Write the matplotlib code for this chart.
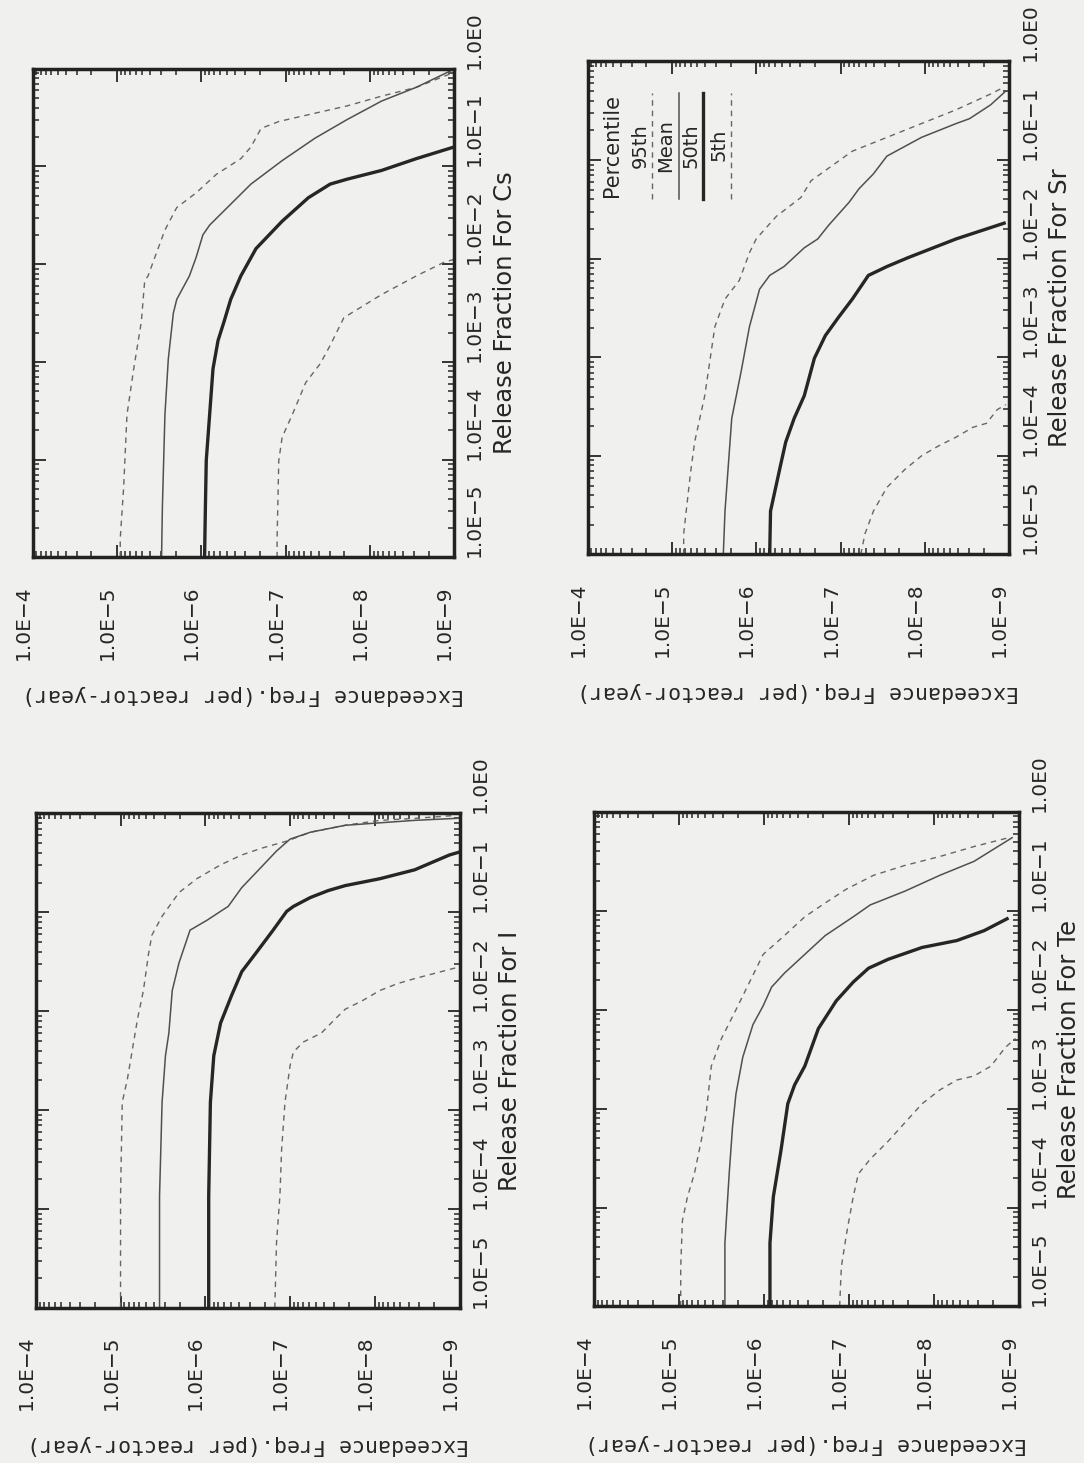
import matplotlib.pyplot as plt
import numpy as np

# values read off the scanned (rotated) page, stored as log10
# f = exceedance frequency (per reactor-year), r = release fraction

# Cs
cs_95_f = [-5.04, -5.04, -5.08, -5.12, -5.20, -5.29, -5.33, -5.37, -5.45, -5.57, -5.71, -5.94, -6.18, -6.47, -6.59, -6.71, -6.92, -7.12, -7.73, -8.14, -8.55, -8.96]
cs_95_r = [-5.00, -4.81, -4.29, -3.54, -3.07, -2.59, -2.17, -2.12, -1.93, -1.65, -1.42, -1.27, -1.08, -0.92, -0.80, -0.61, -0.54, -0.50, -0.38, -0.28, -0.19, -0.05]
cs_mean_f = [-5.53, -5.54, -5.57, -5.61, -5.67, -5.71, -5.86, -5.94, -6.02, -6.10, -6.31, -6.59, -6.96, -7.35, -7.73, -8.14, -8.55, -8.96]
cs_mean_r = [-5.00, -4.48, -3.54, -2.97, -2.50, -2.36, -2.12, -1.93, -1.70, -1.60, -1.42, -1.18, -0.94, -0.71, -0.52, -0.33, -0.19, -0.02]
cs_50_f = [-6.04, -6.05, -6.06, -6.10, -6.14, -6.20, -6.27, -6.35, -6.47, -6.65, -6.96, -7.27, -7.53, -7.73, -8.14, -8.55, -9.00]
cs_50_r = [-5.00, -4.48, -4.01, -3.54, -3.07, -2.78, -2.59, -2.36, -2.12, -1.84, -1.56, -1.32, -1.18, -1.13, -1.04, -0.92, -0.80]
cs_5_f = [-6.90, -6.90, -6.92, -6.96, -7.08, -7.24, -7.41, -7.53, -7.69, -7.78, -8.14, -8.55, -8.88, -9.00]
cs_5_r = [-5.00, -4.81, -4.01, -3.77, -3.54, -3.21, -3.02, -2.83, -2.55, -2.50, -2.31, -2.12, -1.98, -1.95]

# Sr
sr_95_f = [-5.14, -5.14, -5.22, -5.27, -5.39, -5.51, -5.63, -5.80, -5.92, -6.00, -6.24, -6.53, -6.65, -7.14, -7.55, -7.96, -8.37, -8.78, -8.94]
sr_95_r = [-5.00, -4.79, -4.18, -3.86, -3.39, -2.69, -2.41, -2.22, -1.94, -1.80, -1.57, -1.38, -1.21, -0.91, -0.77, -0.63, -0.49, -0.33, -0.26]
sr_mean_f = [-5.61, -5.63, -5.67, -5.71, -5.82, -5.92, -6.04, -6.16, -6.33, -6.57, -6.73, -6.86, -7.10, -7.22, -7.39, -7.55, -7.96, -8.37, -8.53, -8.78, -8.96]
sr_mean_r = [-5.00, -4.56, -4.09, -3.62, -3.15, -2.69, -2.31, -2.17, -2.08, -1.89, -1.80, -1.66, -1.43, -1.29, -1.14, -0.96, -0.77, -0.63, -0.58, -0.44, -0.30]
sr_50_f = [-6.16, -6.17, -6.29, -6.35, -6.45, -6.57, -6.69, -6.82, -6.98, -7.14, -7.33, -7.55, -7.80, -8.37, -8.94]
sr_50_r = [-5.00, -4.56, -4.09, -3.86, -3.62, -3.39, -3.01, -2.78, -2.59, -2.41, -2.17, -2.08, -1.99, -1.80, -1.64]
sr_5_f = [-7.24, -7.29, -7.39, -7.55, -7.76, -7.96, -8.16, -8.37, -8.57, -8.73, -8.86, -8.96]
sr_5_r = [-5.00, -4.79, -4.56, -4.32, -4.14, -4.00, -3.90, -3.81, -3.71, -3.67, -3.53, -3.48]

# I
i_95_f = [-5.00, -5.00, -5.02, -5.08, -5.20, -5.27, -5.33, -5.37, -5.49, -5.69, -5.90, -6.18, -6.43, -6.67, -6.96, -7.24, -7.65, -8.06, -8.47, -8.96]
i_95_r = [-5.00, -3.87, -2.92, -2.69, -2.08, -1.79, -1.42, -1.23, -1.04, -0.80, -0.66, -0.52, -0.42, -0.35, -0.28, -0.19, -0.12, -0.07, -0.05, -0.02]
i_mean_f = [-5.46, -5.46, -5.49, -5.53, -5.57, -5.61, -5.69, -5.82, -6.02, -6.18, -6.27, -6.43, -6.63, -6.84, -7.00, -7.24, -7.65, -8.47, -8.96]
i_mean_r = [-5.00, -3.87, -2.92, -2.45, -2.22, -1.79, -1.51, -1.18, -1.08, -0.99, -0.94, -0.75, -0.57, -0.38, -0.26, -0.19, -0.12, -0.07, -0.05]
i_50_f = [-6.04, -6.04, -6.06, -6.10, -6.18, -6.31, -6.43, -6.59, -6.80, -6.96, -7.04, -7.24, -7.45, -7.65, -8.06, -8.47, -8.88, -9.00]
i_50_r = [-5.00, -3.87, -2.92, -2.45, -2.12, -1.84, -1.60, -1.42, -1.18, -0.99, -0.94, -0.85, -0.78, -0.73, -0.66, -0.57, -0.42, -0.39]
i_5_f = [-6.82, -6.84, -6.88, -6.90, -6.94, -7.00, -7.04, -7.16, -7.37, -7.53, -7.65, -7.86, -8.06, -8.27, -8.47, -8.96]
i_5_r = [-5.00, -4.34, -3.87, -3.40, -2.92, -2.55, -2.41, -2.31, -2.22, -2.08, -1.98, -1.89, -1.79, -1.72, -1.67, -1.56]

# Te
te_95_f = [-5.02, -5.02, -5.04, -5.10, -5.18, -5.26, -5.32, -5.38, -5.50, -5.67, -5.83, -5.99, -6.24, -6.48, -6.72, -6.97, -7.29, -7.66, -8.07, -8.47, -8.88]
te_95_r = [-5.00, -4.60, -4.13, -3.89, -3.66, -3.33, -3.04, -2.57, -2.29, -2.00, -1.72, -1.44, -1.25, -1.06, -0.92, -0.78, -0.64, -0.54, -0.45, -0.35, -0.26]
te_mean_f = [-5.54, -5.54, -5.59, -5.63, -5.67, -5.75, -5.87, -5.99, -6.09, -6.24, -6.48, -6.72, -7.05, -7.25, -7.66, -8.07, -8.47, -8.92]
te_mean_r = [-5.00, -4.36, -3.66, -3.18, -2.85, -2.48, -2.15, -1.96, -1.77, -1.63, -1.44, -1.25, -1.06, -0.94, -0.80, -0.64, -0.50, -0.26]
te_50_f = [-6.07, -6.07, -6.11, -6.20, -6.28, -6.36, -6.48, -6.64, -6.85, -7.05, -7.23, -7.46, -7.86, -8.27, -8.59, -8.86]
te_50_r = [-5.00, -4.36, -3.89, -3.42, -2.95, -2.76, -2.57, -2.19, -1.91, -1.72, -1.58, -1.49, -1.37, -1.30, -1.20, -1.08]
te_5_f = [-6.89, -6.91, -6.97, -7.05, -7.11, -7.25, -7.46, -7.66, -7.86, -8.07, -8.27, -8.47, -8.67, -8.84, -8.96]
te_5_r = [-5.00, -4.60, -4.27, -3.89, -3.66, -3.51, -3.33, -3.14, -2.95, -2.81, -2.71, -2.67, -2.57, -2.38, -2.29]

freq_ticks = [1e-4, 1e-5, 1e-6, 1e-7, 1e-8, 1e-9]
freq_labels = ["1.0E\u22124", "1.0E\u22125", "1.0E\u22126", "1.0E\u22127", "1.0E\u22128", "1.0E\u22129"]
rel_ticks = [1e-5, 1e-4, 1e-3, 1e-2, 1e-1, 1e0]
rel_labels = ["1.0E\u22125", "1.0E\u22124", "1.0E\u22123", "1.0E\u22122", "1.0E\u22121", "1.0E0"]
legend_names = ["95th", "Mean", "50th", "5th"]

bg = "#f0f0ee"
ink = "#262626"
styles = [
    dict(color="#666666", lw=1.0, ls=(0, (4, 3.5))),
    dict(color="#505050", lw=1.1, ls="-"),
    dict(color="#262626", lw=2.4, ls="-"),
    dict(color="#666666", lw=1.0, ls=(0, (4, 3.5))),
]

# the page is rotated: frequency runs left-right, release fraction bottom-top
panels = [
    ("Cs", [0.030, 0.619, 0.389, 0.334],
     [(cs_95_f, cs_95_r), (cs_mean_f, cs_mean_r), (cs_50_f, cs_50_r), (cs_5_f, cs_5_r)]),
    ("Sr", [0.542, 0.621, 0.389, 0.337],
     [(sr_95_f, sr_95_r), (sr_mean_f, sr_mean_r), (sr_50_f, sr_50_r), (sr_5_f, sr_5_r)]),
    ("I", [0.033, 0.106, 0.391, 0.338],
     [(i_95_f, i_95_r), (i_mean_f, i_mean_r), (i_50_f, i_50_r), (i_5_f, i_5_r)]),
    ("Te", [0.548, 0.107, 0.392, 0.338],
     [(te_95_f, te_95_r), (te_mean_f, te_mean_r), (te_50_f, te_50_r), (te_5_f, te_5_r)]),
]

fig = plt.figure(figsize=(10.84, 14.63), dpi=100, facecolor=bg)

for name, rect, curves in panels:
    ax = fig.add_axes(rect, facecolor=bg)
    for (f, r), st in zip(curves, styles):
        ax.plot(10 ** np.array(f), 10 ** np.array(r), **st)
    ax.set_xscale("log")
    ax.set_yscale("log")
    ax.set_xlim(1e-4, 1e-9)
    ax.set_ylim(1e-5, 1e0)
    ax.set_xticks(freq_ticks, freq_labels, rotation=90, ha="right", fontsize=14.5)
    ax.set_yticks(rel_ticks, rel_labels, rotation=90, va="bottom", fontsize=14.5)
    ax.xaxis.set_minor_formatter(plt.NullFormatter())
    ax.yaxis.set_minor_formatter(plt.NullFormatter())
    ax.tick_params(which="both", direction="in", top=True, bottom=True, left=True, right=True,
                   labelleft=False, labelright=True, colors=ink)
    ax.tick_params(axis="x", which="major", length=9, width=1.3, pad=20)
    ax.tick_params(axis="y", which="major", length=9, width=1.3, pad=8)
    ax.tick_params(which="minor", length=4.5, width=1.1)
    for s in ax.spines.values():
        s.set_linewidth(2.5)
        s.set_color("#222222")
    ax.set_xlabel("Exceedance Freq.(per reactor-year)", rotation=180, fontsize=15.5,
                  family="DejaVu Sans Mono", labelpad=18, color=ink)
    ax.yaxis.set_label_position("right")
    ax.set_ylabel("Release Fraction For " + name, fontsize=17.5, labelpad=6, color=ink)

    if name == "Sr":
        # legend drawn as in the original: titles with a short line beside each
        ax.text(0.057, 0.83, "Percentile", rotation=90, ha="center", va="center",
                fontsize=15, color=ink, transform=ax.transAxes)
        xs = [0.154, 0.216, 0.275, 0.341]
        for lbl, x, st in zip(legend_names, xs, styles):
            ax.plot([x, x], [0.72, 0.937], transform=ax.transAxes, **st)
            ax.text(x - 0.030, 0.83, lbl, rotation=90, ha="center", va="center",
                    fontsize=14, color=ink, transform=ax.transAxes)

fig.savefig("out.png", dpi=100, facecolor=bg)
